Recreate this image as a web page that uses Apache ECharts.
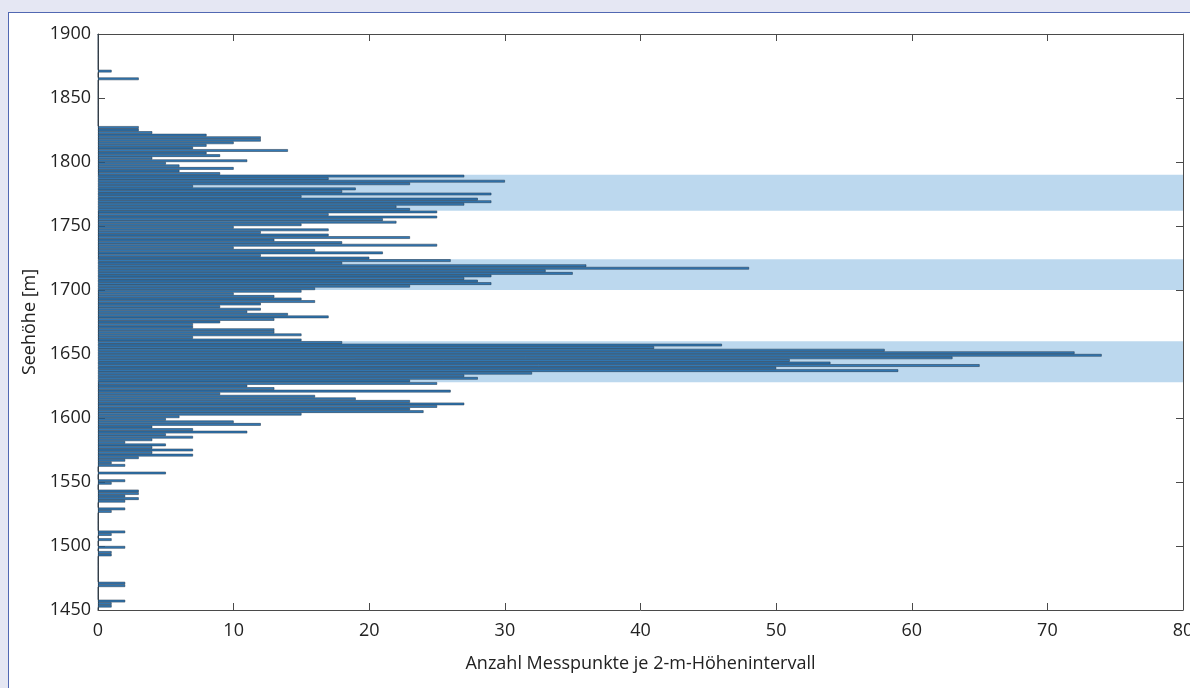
<!DOCTYPE html>
<html>
<head>
<meta charset="utf-8">
<script src="https://cdn.jsdelivr.net/npm/echarts@6/dist/echarts.min.js"></script>
<style>
    html, body { margin: 0; padding: 0; background: #e5e7f3; }
    #panel { position: absolute; left: 8px; top: 12px; width: 1200px; height: 700px; background: #fff; border: 1px solid #5168b2; }
    #chart { position: absolute; left: 0; top: 0; width: 1190px; height: 688px; }
</style>
</head>
<body>
<div id="panel"></div>
<div id="chart"></div>
<script>
    // 2-m bins, listed from the top bin (1898-1900) down to 1450-1452
    const binTop = 1898
    const binSize = 2
    const counts = [
        0, 0, 0, 0, 0, 0, 0, 0, 0, 0,          // 1898 - 1880
        0, 0, 0, 0, 1, 0, 0, 3, 0, 0,          // 1878 - 1860
        0, 0, 0, 0, 0, 0, 0, 0, 0, 0,          // 1858 - 1840
        0, 0, 0, 0, 0, 0, 3, 3, 4, 8,          // 1838 - 1820
        12, 12, 10, 8, 7, 14, 8, 9, 4, 11,     // 1818 - 1800
        5, 6, 10, 6, 9, 27, 17, 30, 23, 7,     // 1798 - 1780
        19, 18, 29, 15, 28, 29, 27, 22, 23, 25, // 1778 - 1760
        17, 25, 21, 22, 15, 10, 17, 12, 17, 23, // 1758 - 1740
        13, 18, 25, 10, 16, 21, 12, 20, 26, 18, // 1738 - 1720
        36, 48, 33, 35, 29, 27, 28, 29, 23, 16, // 1718 - 1700
        15, 10, 13, 15, 16, 12, 9, 12, 11, 14,  // 1698 - 1680
        17, 13, 9, 7, 7, 13, 13, 15, 7, 15,     // 1678 - 1660
        18, 46, 41, 58, 72, 74, 63, 51, 54, 65, // 1658 - 1640
        50, 59, 32, 27, 28, 23, 25, 11, 13, 26, // 1638 - 1620
        9, 16, 19, 23, 27, 25, 23, 24, 15, 6,   // 1618 - 1600
        5, 10, 12, 4, 7, 11, 5, 7, 4, 2,        // 1598 - 1580
        5, 4, 7, 4, 7, 3, 2, 1, 2, 0,           // 1578 - 1560
        0, 5, 0, 0, 2, 1, 0, 0, 3, 3,           // 1558 - 1540
        2, 3, 2, 0, 0, 2, 1, 0, 0, 0,           // 1538 - 1520
        0, 0, 0, 0, 2, 1, 0, 1, 0, 0,           // 1518 - 1500
        2, 0, 1, 1, 0, 0, 0, 0, 0, 0,           // 1498 - 1480
        0, 0, 0, 0, 2, 2, 0, 0, 0, 0,           // 1478 - 1460
        0, 2, 1, 1, 0                           // 1458 - 1450
    ]
    // highlighted elevation bands [from, to]
    const bands = [[1762, 1790], [1700, 1724], [1628, 1660]]

    const categories = counts.map((c, i) => String(binTop - i * binSize))

    const lineStyle = {color: '#4a4a4a', width: 1}
    const font = {fontFamily: 'Open Sans', fontSize: 18, color: '#222'}

    const option = {
        animation: false,
        grid: {left: 98, right: 7, top: 34, bottom: 78, outerBoundsMode: 'none', containLabel: false},
        xAxis: [
            {
                type: 'value', min: 0, max: 80, interval: 10, position: 'bottom',
                axisLine: {show: true, onZero: false, lineStyle: lineStyle},
                axisTick: {show: true, inside: true, length: 7, lineStyle: lineStyle},
                axisLabel: Object.assign({margin: 12, formatter: v => String(v)}, font),
                splitLine: {show: false},
                name: 'Anzahl Messpunkte je 2-m-Höhenintervall',
                nameLocation: 'middle', nameGap: 45,
                nameTextStyle: font
            },
            {
                type: 'value', min: 0, max: 80, interval: 10, position: 'top',
                axisLine: {show: true, onZero: false, lineStyle: lineStyle},
                axisTick: {show: true, inside: true, length: 7, lineStyle: lineStyle},
                axisLabel: {show: false},
                splitLine: {show: false}
            }
        ],
        yAxis: [
            {type: 'category', data: categories, inverse: true, show: false},
            {
                type: 'value', min: 1450, max: 1900, interval: 50, position: 'left',
                axisLine: {show: true, onZero: false, lineStyle: lineStyle},
                axisTick: {show: true, inside: true, length: 7, lineStyle: lineStyle},
                axisLabel: Object.assign({margin: 7, formatter: v => String(v)}, font),
                splitLine: {show: false},
                name: 'Seehöhe [m]',
                nameLocation: 'middle', nameGap: 55, nameRotate: 90,
                nameTextStyle: font
            },
            {
                type: 'value', min: 1450, max: 1900, interval: 50, position: 'right',
                axisLine: {show: true, onZero: false, lineStyle: lineStyle},
                axisTick: {show: true, inside: true, length: 7, lineStyle: lineStyle},
                axisLabel: {show: false},
                splitLine: {show: false}
            }
        ],
        series: [
            {
                type: 'line', xAxisIndex: 0, yAxisIndex: 1, data: [], z: 1, silent: true,
                markArea: {
                    silent: true,
                    itemStyle: {color: '#bcd8ee'},
                    data: bands.map(b => [{yAxis: b[0]}, {yAxis: b[1]}])
                }
            },
            {
                type: 'bar', xAxisIndex: 0, yAxisIndex: 0, data: counts, z: 3,
                barCategoryGap: '0%',
                itemStyle: {color: '#3279b5', borderColor: '#1c3145', borderWidth: 0.5},
                silent: true
            }
        ]
    }

    const chart = echarts.init(document.getElementById('chart'))
    chart.setOption(option)
</script>
</body>
</html>
